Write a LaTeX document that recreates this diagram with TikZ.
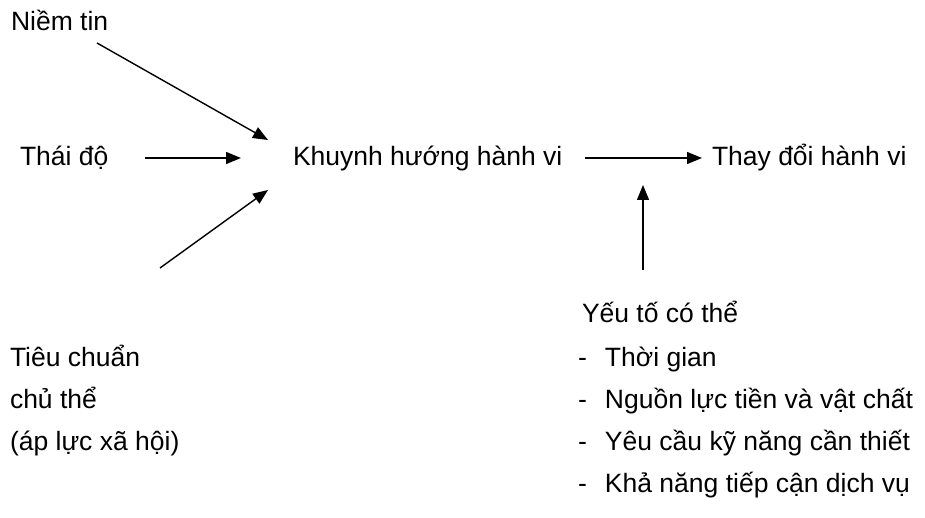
\documentclass[tikz,border=0pt]{standalone}
\usepackage{fontspec}
\setmainfont{Liberation Sans}
\usetikzlibrary{arrows.meta}

\begin{document}
\begin{tikzpicture}[x=1pt, y=-1pt,
    every node/.style={inner sep=0pt, outer sep=0pt, anchor=base west, font=\fontsize{26.5}{31}\selectfont},
    arr/.style={-{Triangle[length=15pt,width=12pt]}, line width=1.4pt}]
            \useasboundingbox (0,0) rectangle (925,518);
            % left side
            \node (niemtin) at (11,31) {Niềm tin};
            \node (thaido) at (20,166) {Thái độ};
            \node (tieuchuan) at (10,366) {Tiêu chuẩn};
            \node (chuthe) at (10,408) {chủ thể};
            \node (apluc) at (10,450) {(áp lực xã hội)};
            % middle and right
            \node (khuynhhuong) at (293,166) {Khuynh hướng hành vi};
            \node (thaydoi) at (712,166) {Thay đổi hành vi};
            \node (yeuto) at (582,322) {Yếu tố có thể};
            \node (thoigian) at (578,366) {\makebox[27pt][l]{-}Thời gian};
            \node (nguonluc) at (578,408) {\makebox[27pt][l]{-}Nguồn lực tiền và vật chất};
            \node (yeucau) at (578,450) {\makebox[27pt][l]{-}Yêu cầu kỹ năng cần thiết};
            \node (khanang) at (578,492) {\makebox[27pt][l]{-}Khả năng tiếp cận dịch vụ};
            % arrow ends
            \coordinate (niemtin-s) at (97,43);
            \coordinate (niemtin-e) at (268,140);
            \coordinate (thaido-s) at (145,158);
            \coordinate (thaido-e) at (241,158);
            \coordinate (tieuchuan-s) at (160,268);
            \coordinate (tieuchuan-e) at (268,190);
            \coordinate (khuynh-s) at (585,158);
            \coordinate (khuynh-e) at (702,158);
            \coordinate (yeuto-s) at (643,270);
            \coordinate (yeuto-e) at (643,185);
            \draw[arr] (niemtin-s) -- (niemtin-e);
            \draw[arr] (thaido-s) -- (thaido-e);
            \draw[arr] (tieuchuan-s) -- (tieuchuan-e);
            \draw[arr] (khuynh-s) -- (khuynh-e);
            \draw[arr] (yeuto-s) -- (yeuto-e);
        \end{tikzpicture}
\end{document}
